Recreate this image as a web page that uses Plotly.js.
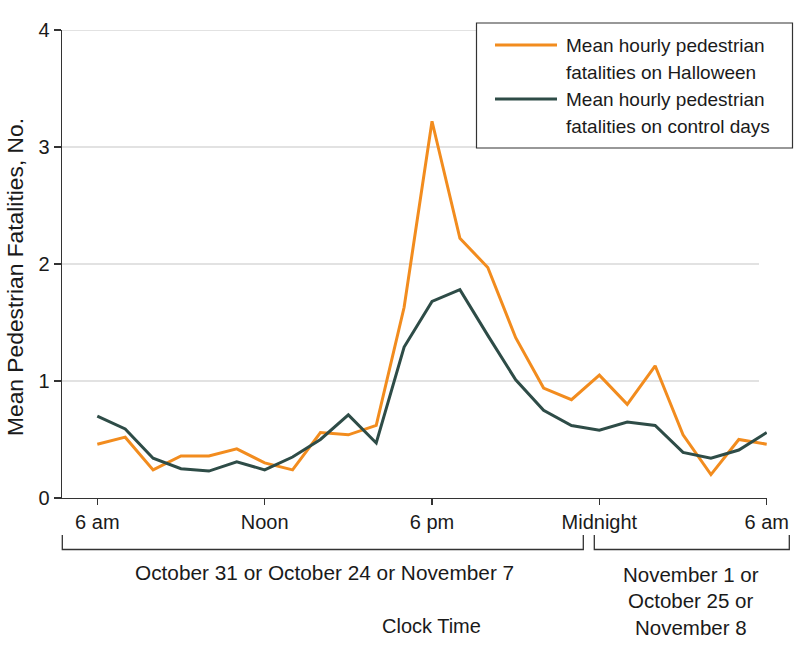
<!DOCTYPE html>
<html>
<head>
<meta charset="utf-8">
<script src="https://cdn.plot.ly/plotly-3.0.1.min.js"></script>
<style>
  html, body { margin: 0; padding: 0; background: #ffffff; }
  #chart { width: 794px; height: 658px; }
</style>
</head>
<body>
<div id="chart"></div>
<script>
// Hours elapsed since 6 am on the first day
var hourIndex = [0, 1, 2, 3, 4, 5, 6, 7, 8, 9, 10, 11, 12, 13, 14, 15, 16, 17, 18, 19, 20, 21, 22, 23, 24];
var halloween = [0.46, 0.52, 0.24, 0.36, 0.36, 0.42, 0.30, 0.24, 0.56, 0.54, 0.62, 1.63, 3.22, 2.22, 1.97, 1.37, 0.94, 0.84, 1.05, 0.80, 1.13, 0.54, 0.20, 0.50, 0.46];
var controlDays = [0.70, 0.59, 0.34, 0.25, 0.23, 0.31, 0.24, 0.35, 0.50, 0.71, 0.47, 1.29, 1.68, 1.78, 1.39, 1.01, 0.75, 0.62, 0.58, 0.65, 0.62, 0.39, 0.34, 0.41, 0.56];
var seriesNames = ["Mean hourly pedestrian<br>fatalities on Halloween", "Mean hourly pedestrian<br>fatalities on control days"];
var xTickVals = [0, 6, 12, 18, 24];
var xTickText = ["6 am", "Noon", "6 pm", "Midnight", "6 am"];
var yTickVals = [0, 1, 2, 3, 4];
var dayLabel1 = "October 31 or October 24 or November 7";
var dayLabel2 = ["November 1 or", "October 25 or", "November 8"];
var xTitle = "Clock Time";
var yTitle = "Mean Pedestrian Fatalities, No.";

var ORANGE = "#F28C1E";
var GREEN = "#2E4C47";
var TEXT = "#1a1a1a";
var FONT = "Liberation Sans, Arial, sans-serif";
var FS = 19;

var traces = [
  { x: hourIndex, y: halloween, type: "scatter", mode: "lines", name: seriesNames[0],
    line: { color: ORANGE, width: 3 }, showlegend: false, hoverinfo: "skip" },
  { x: hourIndex, y: controlDays, type: "scatter", mode: "lines", name: seriesNames[1],
    line: { color: GREEN, width: 3 }, showlegend: false, hoverinfo: "skip" }
];

var L = 62, R = 767, T = 30, B = 498;
var W = R - L, H = B - T;
function px(p) { return (p - L) / W; }
function py(p) { return (B - p) / H; }

var shapes = [];
// gridlines
yTickVals.forEach(function (v) {
  if (v === 0) return;
  shapes.push({ type: "line", xref: "paper", yref: "y", x0: 0, x1: px(759), y0: v, y1: v,
    line: { color: "#d9d9d9", width: 1.5 }, layer: "below" });
});
// brackets
function bracket(x0, x1) {
  shapes.push({ type: "path", xref: "paper", yref: "paper",
    path: "M " + px(x0) + " " + py(535) + " L " + px(x0) + " " + py(549.5) + " L " + px(x1) + " " + py(549.5) + " L " + px(x1) + " " + py(535),
    line: { color: "#333333", width: 1.3 } });
}
bracket(62.3, 583.3);
bracket(594.3, 789.3);
// legend box
shapes.push({ type: "rect", xref: "paper", yref: "paper", x0: px(476.5), x1: px(792.5), y0: py(23), y1: py(148),
  line: { color: "#333333", width: 1.2 }, fillcolor: "#ffffff", layer: "above" });
shapes.push({ type: "line", xref: "paper", yref: "paper", x0: px(495), x1: px(557), y0: py(45), y1: py(45),
  line: { color: ORANGE, width: 3 }, layer: "above" });
shapes.push({ type: "line", xref: "paper", yref: "paper", x0: px(495), x1: px(557), y0: py(99), y1: py(99),
  line: { color: GREEN, width: 3 }, layer: "above" });

var annotations = [];
function txt(text, x, y, size, xanchor, extra) {
  var a = { text: text, xref: "paper", yref: "paper", x: px(x), y: py(y), xanchor: xanchor || "center",
    yanchor: "middle", showarrow: false, font: { family: FONT, size: size, color: TEXT } };
  if (extra) for (var k in extra) a[k] = extra[k];
  annotations.push(a);
}
var leg1 = seriesNames[0].split("<br>");
var leg2 = seriesNames[1].split("<br>");
txt(leg1[0], 564, 45, 19, "left");
txt(leg1[1], 564, 72, 19, "left");
txt(leg2[0], 564, 99, 19, "left");
txt(leg2[1], 564, 126.5, 19, "left");
txt(dayLabel1, 324.5, 572.5, 20.8);
txt(dayLabel2[0], 691, 574, 20.5);
txt(dayLabel2[1], 691, 600.5, 20.5);
txt(dayLabel2[2], 691, 627, 20.5);
txt(xTitle, 431.5, 626, 20);
txt(yTitle, 15, 277, 22.8, "center", { textangle: -90 });

var layout = {
  width: 794, height: 658,
  margin: { l: L, r: 794 - R, t: T, b: 658 - B, pad: 0 },
  paper_bgcolor: "#ffffff", plot_bgcolor: "#ffffff",
  font: { family: FONT, size: FS, color: TEXT },
  showlegend: false,
  xaxis: {
    range: [-1.266, 24.01], tickvals: xTickVals, ticktext: xTickText,
    showgrid: false, zeroline: false, showline: true, linecolor: "#333333", linewidth: 1.3,
    ticks: "outside", ticklen: 6, tickwidth: 1.3, tickcolor: "#333333",
    tickfont: { family: FONT, size: 20, color: TEXT }, fixedrange: true
  },
  yaxis: {
    range: [0, 4], tickvals: yTickVals, showgrid: false, zeroline: false,
    showline: true, linecolor: "#333333", linewidth: 1.3,
    ticks: "outside", ticklen: 7, tickwidth: 1.3, tickcolor: "#333333",
    tickfont: { family: FONT, size: 20, color: TEXT }, fixedrange: true
  },
  shapes: shapes,
  annotations: annotations
};

Plotly.newPlot("chart", traces, layout, { displayModeBar: false, staticPlot: true });
</script>
</body>
</html>
